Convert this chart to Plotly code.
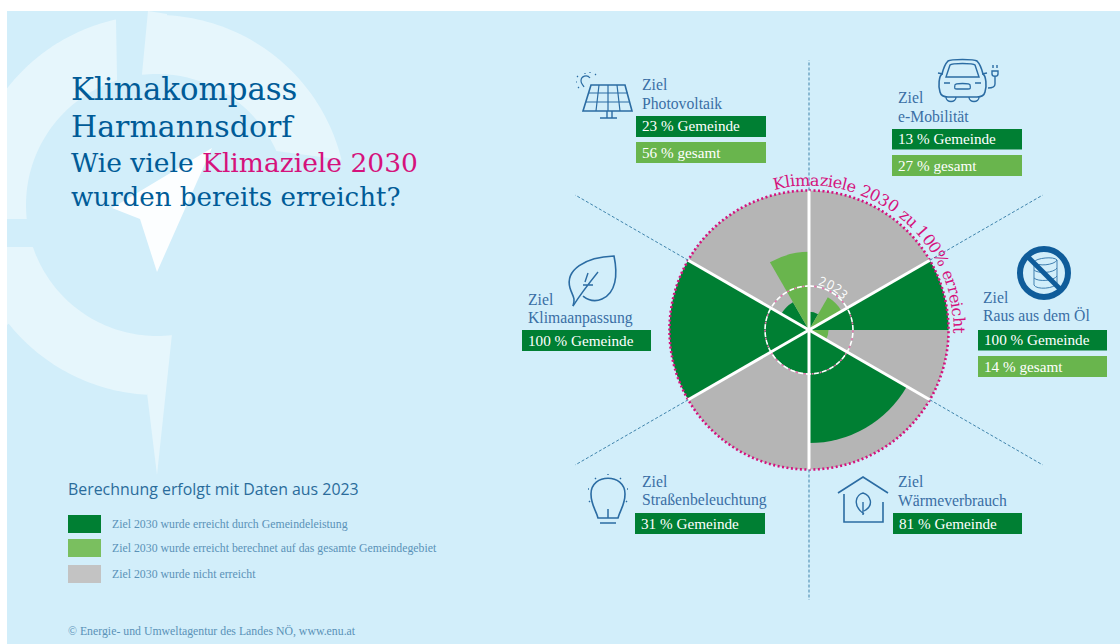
import math
import re
import numpy as np
import plotly.graph_objects as go

# ---------- data ----------
goals = ["e-Mobilität", "Raus aus dem Öl", "Wärmeverbrauch", "Straßenbeleuchtung", "Klimaanpassung", "Photovoltaik"]
sector_start = [0, 60, 120, 180, 240, 300]
gemeinde = [13, 100, 81, 31, 100, 23]
gesamt = [27, 14, None, None, None, 56]
ziel_voll = [100, 100, 100, 100, 100, 100]
jahr_kreis = 31.5
legend_labels = ["Ziel 2030 wurde erreicht durch Gemeindeleistung",
                 "Ziel 2030 wurde erreicht berechnet auf das gesamte Gemeindegebiet",
                 "Ziel 2030 wurde nicht erreicht"]

# ---------- style ----------
W, H = 1120, 644
BG = "#d2eefa"
RING = "#e6f6fc"
DARK = "#007f33"
LIGHT = "#69b54d"
GRAY = "#b5b5b5"
PINK = "#d5127c"
BLUE = "#3a6fa5"
TITLE = "#005b97"
ICON = "#2b6ca3"
CX, CY, RMAX = 809, 330, 270
RANGE = 193.5
SER = "Liberation Serif"
SLAB = "DejaVu Serif"

def px(x): return x / W
def py(y): return 1 - y / H

def path(d):
    out = []
    toks = re.findall(r"[MLCQZ]|-?\d+\.?\d*", d)
    is_x = True
    for t in toks:
        if t in "MLCQZ":
            out.append(t)
            is_x = True
        else:
            v = float(t)
            out.append(f"{px(v):.5f}" if is_x else f"{py(v):.5f}")
            is_x = not is_x
    return " ".join(out)

def circ(cx, cy, r):
    k = 0.5523 * r
    return (f"M {cx-r} {cy} C {cx-r} {cy-k} {cx-k} {cy-r} {cx} {cy-r} C {cx+k} {cy-r} {cx+r} {cy-k} {cx+r} {cy} "
            f"C {cx+r} {cy+k} {cx+k} {cy+r} {cx} {cy+r} C {cx-k} {cy+r} {cx-r} {cy+k} {cx-r} {cy} Z")

def arc_pts(cx, cy, r, a0, a1, n=48):
    return [(cx + r * math.sin(math.radians(a)), cy - r * math.cos(math.radians(a))) for a in np.linspace(a0, a1, n)]

def poly(pts, close=True):
    s = "M " + " L ".join(f"{x:.2f} {y:.2f}" for x, y in pts)
    return s + (" Z" if close else "")

shapes = []
def rect(x0, y0, x1, y1, color):
    shapes.append(dict(type="rect", xref="paper", yref="paper", x0=px(x0), x1=px(x1), y0=py(y1), y1=py(y0),
                       fillcolor=color, line=dict(width=0), layer="below"))
def fill(d, color, opacity=1):
    shapes.append(dict(type="path", xref="paper", yref="paper", path=path(d), fillcolor=color, opacity=opacity,
                       line=dict(width=0), layer="below"))
def stroke(d, w=1.4, color=ICON):
    shapes.append(dict(type="path", xref="paper", yref="paper", path=path(d),
                       line=dict(width=w, color=color), layer="above"))

# page background
rect(7, 11, W, H, BG)

# watermark compass
WX, WY, RO, RI = 157, 205, 190, 131
def ang(x, y):
    return math.degrees(math.atan2(x - WX, WY - y))
# top-left ring segment
a = arc_pts(WX, WY, RO, ang(7, 88), ang(116, 20))
b = arc_pts(WX, WY, RI, ang(117, 80), ang(27, 219), 48)
fill(poly([(7, 219), (7, 88)] + a + [(116, 20)] + b + [(27, 219)]), RING)
# top-right ring segment
a = arc_pts(WX, WY, RO, ang(167, 15), ang(340, 160))
b = arc_pts(WX, WY, RI, ang(283, 148), ang(142, 75))
fill(poly([(148, 11), (167, 14)] + a + b + [(142, 74)]), RING)
# bottom ring segment
a = arc_pts(WX, WY, RI, ang(33, 247), ang(172, 334) - 360, 48)
b = arc_pts(WX, WY, RO, ang(147, 393), ang(7, 325), 48)
fill(poly([(7, 247), (33, 247)] + a + [(172, 334), (157, 475), (147, 393)] + b + [(7, 325)]), RING)
# needle
fill("M 212 148 L 112 208 L 140 219 L 157 272 Z", "#ffffff", 0.93)

# info boxes
boxes = [
    (892, 1022, [(129, 149.5, DARK, "13 % Gemeinde"), (155, 176, LIGHT, "27 % gesamt")], 898, 97.5, "e-Mobilität"),
    (978, 1107, [(330, 350.5, DARK, "100 % Gemeinde"), (356, 377, LIGHT, "14 % gesamt")], 983, 297.5, "Raus aus dem Öl"),
    (893, 1022, [(513, 534, DARK, "81 % Gemeinde")], 898, 481.5, "Wärmeverbrauch"),
    (635, 765, [(513, 534, DARK, "31 % Gemeinde")], 642, 481.5, "Straßenbeleuchtung"),
    (522, 651, [(330, 351, DARK, "100 % Gemeinde")], 528, 299.5, "Klimaanpassung"),
    (636, 766, [(116, 137, DARK, "23 % Gemeinde"), (142, 163, LIGHT, "56 % gesamt")], 642, 84.5, "Photovoltaik"),
]
ann = []
def text(x, y, s, size, color, font=SER, anchor="left", angle=0):
    ann.append(dict(xref="paper", yref="paper", x=px(x), y=py(y), text=s, showarrow=False, xanchor=anchor,
                    yanchor="middle", textangle=angle, font=dict(family=font, size=size, color=color),
                    borderpad=0, borderwidth=0))

for x0, x1, rows, zx, zy, name in boxes:
    for y0, y1, col, s in rows:
        rect(x0, y0, x1, y1, col)
        text(x0 + 6, (y0 + y1) / 2 - 0.5, s, 15.2, "#ffffff")
    text(zx, zy, "Ziel", 15.7, BLUE)
    text(zx, zy + 18.5, name, 15.7, BLUE)

# title
text(71, 89, "Klimakompass", 30.8, TITLE, SLAB)
text(71, 127, "Harmannsdorf", 30, TITLE, SLAB)
text(71, 163, f"Wie viele <span style='color:{PINK}'>Klimaziele 2030</span>", 26.5, TITLE, SLAB)
text(71, 197, "wurden bereits erreicht?", 26.1, TITLE, SLAB)

# legend
text(68, 489, "Berechnung erfolgt mit Daten aus 2023", 15.9, "#2a6c9b", "Open Sans")
for (y0, col, s) in zip([515, 539, 565], [DARK, "#7abf5f", "#c3c3c3"], legend_labels):
    rect(68, y0, 101, y0 + 18, col)
    text(112, y0 + 8.5, s, 11.8, "#5a92b8")
text(68, 631, "© Energie- und Umweltagentur des Landes NÖ, www.enu.at", 11.8, "#5a92b8")

# curved labels
CW = {"K": .75, "l": .32, "i": .32, "m": .95, "a": .6, "z": .53, "e": .59, " ": .32, "u": .64, "%": .95,
      "r": .48, "c": .56, "h": .64, "t": .40}
def curved(s, r, a0, a1, size, color, font):
    w = [CW.get(c, .64) for c in s]
    tot = sum(w) - w[0] / 2 - w[-1] / 2
    pos = -w[0] / 2
    for c, wi in zip(s, w):
        t = a0 + (pos + wi / 2) / tot * (a1 - a0)
        pos += wi
        if c != " ":
            x = CX + r * math.sin(math.radians(t))
            y = CY - r * math.cos(math.radians(t))
            ann.append(dict(xref="paper", yref="paper", x=px(x), y=py(y), text=c, showarrow=False, xanchor="center",
                            yanchor="middle", textangle=t, font=dict(family=font, size=size, color=color)))
curved("Klimaziele 2030 zu 100% erreicht", 150, -11.5, 90, 16, PINK, SLAB)
curved("2023", 50, 16, 44, 12.5, "#ffffff", "Open Sans")

# icons
# solar panel
stroke("M 591 85 L 625 85 L 632 111 L 583 111 Z", 1.6)
stroke("M 589 93 L 628 93 M 586 102 L 630 102 M 599 85 L 596 111 M 608 85 L 608 111 M 617 85 L 620 111", 1.2)
stroke("M 607 111 L 607 118 M 612 111 L 612 118 M 600 118 L 617 118", 1.4)
stroke("M 590 78 C 587 74 581 76 581 81 C 581 84 583 85 584 87", 1.2)
stroke("M 585 74 L 585 73 M 590 73 L 590 72 M 595 75 L 596 74 M 578 77 L 577 76 M 577 82 L 576 82 M 579 87 L 578 88", 1.2)
# car
stroke("M 948 61 C 951 59 974 59 977 61 C 980 64 982 70 983 74 C 986 76 987 86 985 92 C 984 96 981 97 977 97 L 948 97 "
       "C 944 97 941 96 940 92 C 938 86 939 76 942 74 C 943 70 945 64 948 61 Z", 1.6)
stroke("M 946 77 L 979 77 L 975 65 C 973 63 952 63 950 65 Z", 1.4)
stroke("M 943 74 L 938 73 M 982 74 L 987 73", 1.4)
stroke("M 944 83 L 950 83 M 975 83 L 981 83 M 955 85 C 955 83 970 83 970 85 C 971 89 970 89 968 89 L 957 89 C 955 89 954 89 955 85", 1.3)
stroke("M 946 97 C 946 103 956 103 956 97 M 969 97 C 969 103 979 103 979 97", 1.4)
stroke("M 992 71 L 998 71 L 998 74 C 998 77 992 77 992 74 Z M 993 65 L 993 68 M 997 65 L 997 68 M 995 77 L 995 84 C 995 87 992 88 988 88", 1.4)
# no-oil sign
stroke("M 1034 262 C 1036 258 1054 256 1057 260 L 1057 283 C 1055 289 1036 290 1034 285 Z", 1, "#3f7fb0")
stroke("M 1034 262 C 1037 267 1055 265 1057 260 M 1034 270 C 1038 274 1054 273 1057 268 M 1034 278 C 1038 282 1054 281 1057 276", 1, "#3f7fb0")
stroke(circ(1044, 273, 24), 6, "#0f5c9a")
stroke("M 1028 257 L 1060 289", 5, "#0f5c9a")
# leaf
stroke("M 573 306 C 576 298 572 295 570 288 C 565 270 585 257 614 256 C 618 275 616 293 602 299 C 595 302 588 300 583 296", 1.6)
stroke("M 573 306 C 580 295 590 282 598 272 M 585 282 L 588 273 M 583 285 L 593 285", 1.4)
# bulb
stroke("M 598 518 C 596 510 591 505 591 494 C 591 473 625 473 625 494 C 625 505 620 510 618 518 Z", 1.6)
stroke("M 608 509 L 608 518 M 600 523 L 616 523", 1.5)
stroke("M 608 475 L 608 474 M 596 479 L 595 478 M 620 479 L 621 478 M 589 489 L 588 489 M 627 489 L 628 489 "
       "M 590 501 L 589 502 M 626 501 L 627 502", 1.4)
# house
stroke("M 838 493 L 863 477 L 888 493", 1.6)
stroke("M 844 494 L 844 522 L 883 522 L 883 502", 1.6)
stroke("M 864 514 C 851 505 857 494 863 493 C 870 495 875 505 864 511 M 863 502 L 863 515", 1.4)

# ---------- traces ----------
th = [s + 30 for s in sector_start]
fig = go.Figure()
fig.add_trace(go.Barpolar(r=ziel_voll, theta=th, width=[60] * 6, marker=dict(color=GRAY, line_width=0), name="nicht erreicht"))

dark_t, dark_w, dark_r, light_t, light_r = [], [], [], [], []
for s, g, a in zip(sector_start, gemeinde, gesamt):
    if a is None:
        dark_t.append(s + 30); dark_w.append(60)
    else:
        dark_t.append(s + 15); dark_w.append(30)
        light_t.append(s + 45); light_r.append(a)
    dark_r.append(g)
fig.add_trace(go.Barpolar(r=dark_r, theta=dark_t, width=dark_w, marker=dict(color=DARK, line_width=0), name="Gemeinde"))
fig.add_trace(go.Barpolar(r=light_r, theta=light_t, width=[30] * len(light_t), marker=dict(color=LIGHT, line_width=0), name="gesamt"))

ring = np.arange(0, 361, 1.0)
fig.add_trace(go.Scatterpolar(r=[100] * len(ring), theta=ring, mode="lines", line=dict(color=PINK, width=2.6, dash="2px,2.5px"), hoverinfo="skip"))
fig.add_trace(go.Scatterpolar(r=[jahr_kreis] * len(ring), theta=ring, mode="lines", line=dict(color="#f06fb0", width=1.6, dash="0px,5.5px,1.8px,0.7px"), hoverinfo="skip"))
fig.add_trace(go.Scatterpolar(r=[jahr_kreis] * len(ring), theta=ring, mode="lines", line=dict(color="#ffffff", width=1.6, dash="5px,3px"), hoverinfo="skip"))
for s in sector_start:
    fig.add_trace(go.Scatterpolar(r=[0, 100], theta=[s, s], mode="lines", line=dict(color="#ffffff", width=3), hoverinfo="skip"))
    fig.add_trace(go.Scatterpolar(r=[100, RANGE], theta=[s, s], mode="lines", line=dict(color="#3f83ab", width=1, dash="3px,2px"), hoverinfo="skip"))

fig.update_layout(
    width=W, height=H, margin=dict(l=0, r=0, t=0, b=0), paper_bgcolor="#ffffff", showlegend=False,
    shapes=shapes, annotations=ann,
    polar=dict(
        domain=dict(x=[(CX - RMAX) / W, (CX + RMAX) / W], y=[1 - (CY + RMAX) / H, 1 - (CY - RMAX) / H]),
        bgcolor="rgba(0,0,0,0)", barmode="overlay",
        radialaxis=dict(range=[0, RANGE], visible=False, showgrid=False),
        angularaxis=dict(rotation=90, direction="clockwise", visible=False, showgrid=False),
    ),
)
fig.write_html("out.html", config=dict(displayModeBar=False), post_script="document.body.style.margin='0';")
